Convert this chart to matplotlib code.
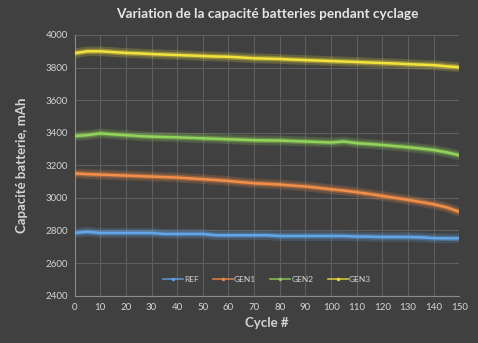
import matplotlib
matplotlib.use('Agg')
import matplotlib.pyplot as plt
from matplotlib.lines import Line2D

# values, every 5 cycles
cycles = list(range(0, 151, 5))
ref  = [2785, 2792, 2785, 2785, 2785, 2785, 2785, 2779, 2779, 2779, 2779,
        2771, 2771, 2771, 2771, 2771, 2766, 2766, 2766, 2766, 2766, 2766,
        2763, 2762, 2760, 2760, 2760, 2758, 2753, 2752, 2752]
gen1 = [3150, 3146, 3143, 3140, 3137, 3134, 3131, 3128, 3125, 3120, 3115,
        3110, 3104, 3097, 3090, 3086, 3082, 3076, 3070, 3062, 3053, 3045,
        3035, 3024, 3012, 3000, 2988, 2975, 2961, 2942, 2915]
gen2 = [3380, 3385, 3396, 3390, 3385, 3380, 3376, 3374, 3372, 3369, 3366,
        3363, 3360, 3357, 3354, 3353, 3352, 3349, 3346, 3343, 3340, 3346,
        3336, 3331, 3325, 3318, 3311, 3303, 3294, 3280, 3262]
gen3 = [3888, 3900, 3900, 3895, 3890, 3887, 3883, 3880, 3877, 3874, 3871,
        3868, 3866, 3862, 3857, 3855, 3853, 3849, 3846, 3843, 3840, 3837,
        3834, 3831, 3828, 3825, 3821, 3818, 3815, 3808, 3802]
names = ['REF', 'GEN1', 'GEN2', 'GEN3']
colors = ['#62a6ea', '#f28e48', '#92d45a', '#f2e23c']

bg = '#404040'
txt = '#d4d4d4'
plt.rcParams['font.family'] = ['Lato', 'DejaVu Sans']

fig = plt.figure(figsize=(4.78, 3.43), dpi=100, facecolor=bg)
ax = fig.add_axes([0.156, 0.138, 0.805, 0.760], facecolor=bg)

handles = []
for data, name, col in zip([ref, gen1, gen2, gen3], names, colors):
    # soft glow under each line
    ax.plot(cycles, data, color=col, linewidth=7, alpha=0.2, solid_capstyle='round', zorder=2)
    ax.plot(cycles, data, color=col, linewidth=3.8, alpha=0.35, solid_capstyle='round', zorder=3)
    ax.plot(cycles, data, color=col, linewidth=1.8, zorder=4)
    handles.append(Line2D([], [], color=col, linewidth=1.2, marker='o', markersize=1.6,
                          alpha=0.8, label=name))

ax.set_xlim(0, 150)
ax.set_ylim(2400, 4000)
ax.set_xticks(range(0, 151, 10))
ax.set_yticks(range(2400, 4001, 200))
ax.grid(True, color='#5e5e5e', linewidth=0.8)
ax.set_axisbelow(True)
for s in ['top', 'right']:
    ax.spines[s].set_visible(False)
for s in ['left', 'bottom']:
    ax.spines[s].set_color('#8a8a8a')
    ax.spines[s].set_linewidth(0.8)
ax.tick_params(colors=txt, labelsize=7, length=0, pad=5)

ax.set_title('Variation de la capacité batteries pendant cyclage', color='#e6e6e6',
             fontsize=9.8, fontweight='bold', pad=12)
ax.set_xlabel('Cycle #', color=txt, fontsize=9.5, fontweight='bold', labelpad=4)
ax.set_ylabel('Capacité batterie, mAh', color=txt, fontsize=9.5, fontweight='bold', labelpad=12)

leg = ax.legend(handles=handles, loc='lower center', bbox_to_anchor=(0.5, 0.02), ncol=4,
                frameon=False, fontsize=6, handlelength=2.4, columnspacing=1.7,
                handletextpad=0.15)
for t in leg.get_texts():
    t.set_color(txt)

fig.savefig('out.png', dpi=100, facecolor=bg)
